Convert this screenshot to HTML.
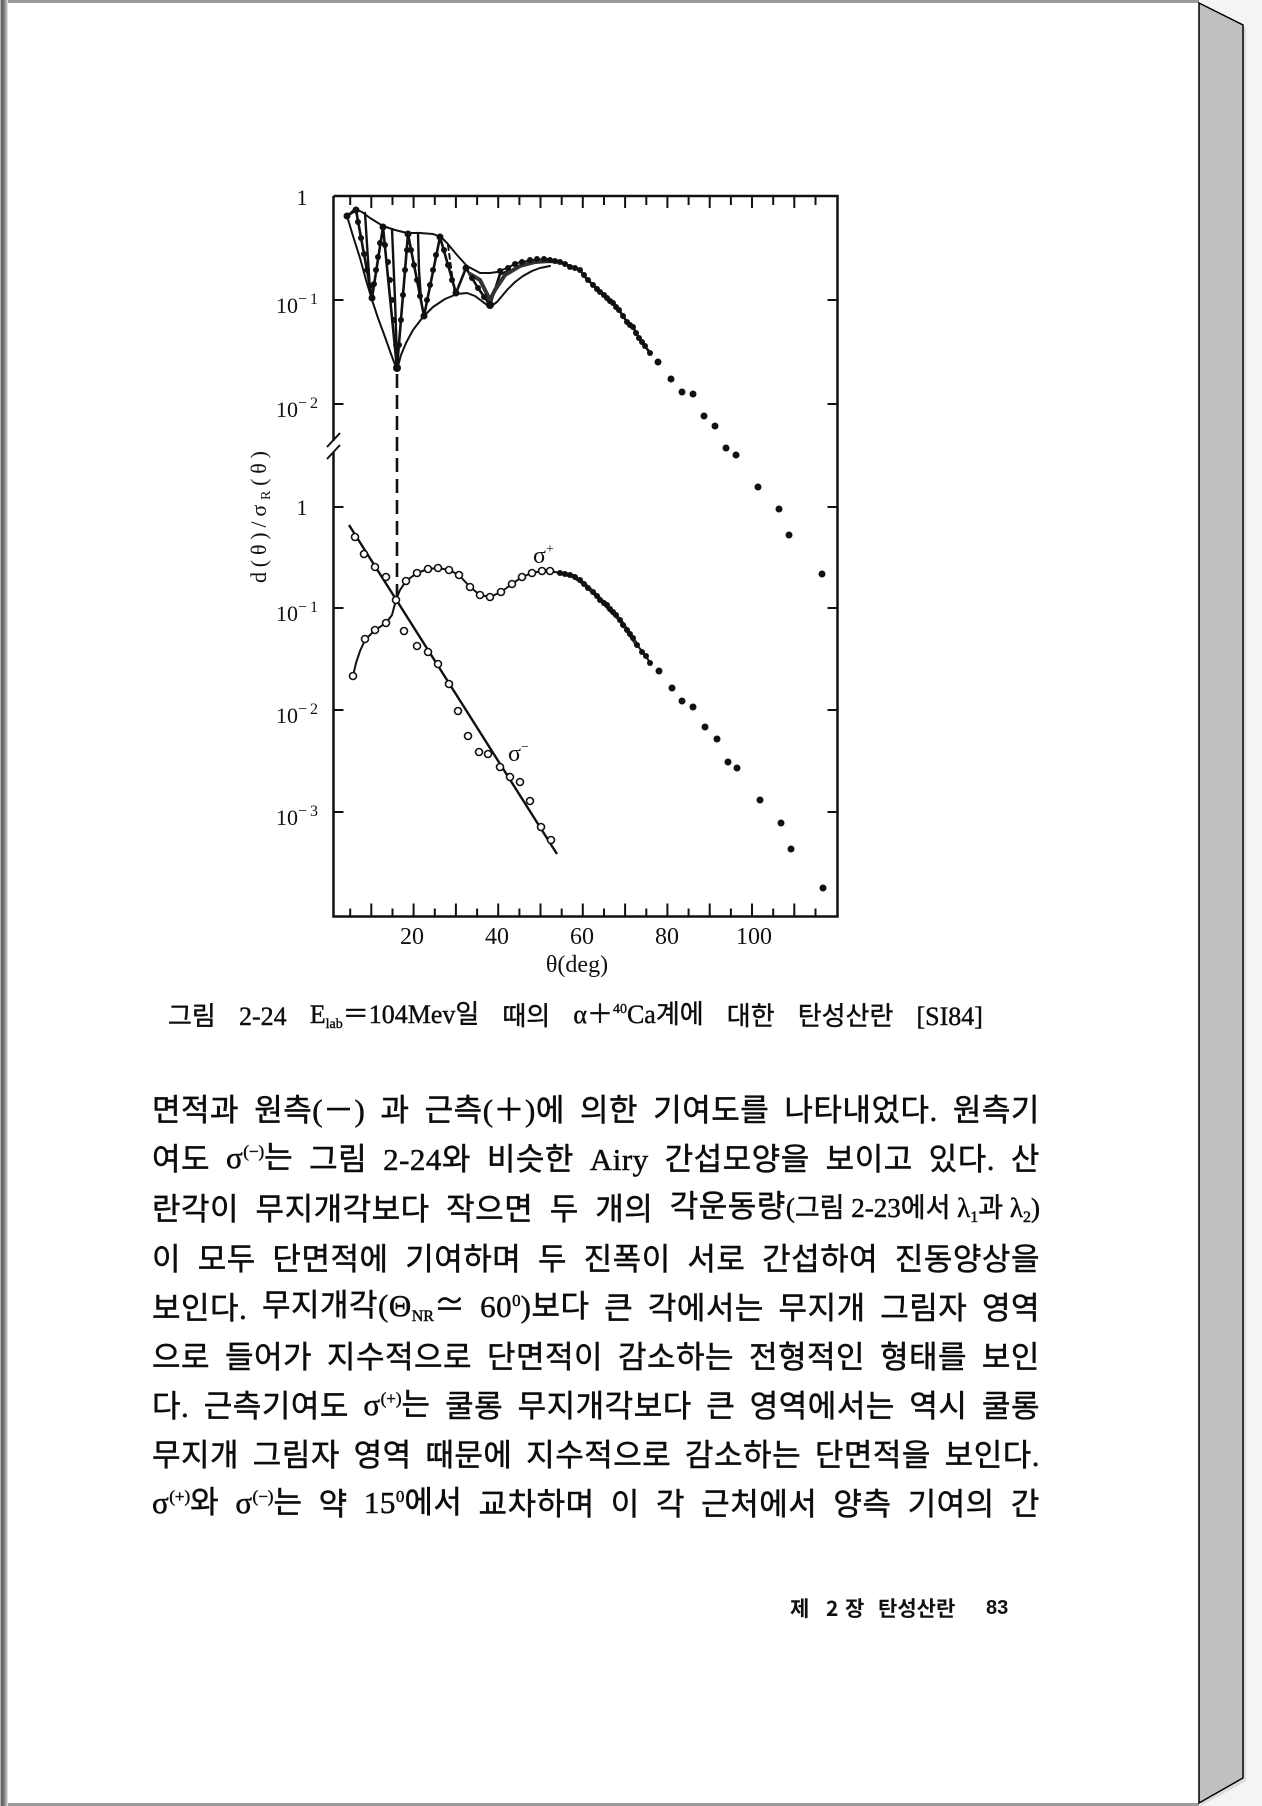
<!DOCTYPE html>
<html>
<head>
<meta charset="utf-8">
<style>
html,body{margin:0;padding:0;}
body{width:1262px;height:1806px;position:relative;overflow:hidden;background:#f4f4f4;}
.line{position:absolute;left:152px;width:888px;height:40px;display:flex;justify-content:space-between;align-items:center;font-size:31px;line-height:40px;font-family:"Liberation Serif","Noto Sans CJK KR",serif;color:#0d0d0d;white-space:nowrap;-webkit-text-stroke:0.5px #0d0d0d;letter-spacing:0.5px;}
.line span{display:inline-block;}
.sup{font-size:17px;position:relative;top:-11px;letter-spacing:0;}
.sub{font-size:16px;position:relative;top:5px;letter-spacing:0;}
.cap{position:absolute;left:168px;width:815px;top:999px;height:36px;display:flex;justify-content:space-between;align-items:center;font-size:26px;line-height:36px;font-family:"Liberation Serif","Noto Sans CJK KR",serif;color:#0d0d0d;white-space:nowrap;-webkit-text-stroke:0.4px #0d0d0d;}
.cap .sup{font-size:14px;top:-10px;}
.cap .sub{font-size:14px;top:5px;}
.ft{position:absolute;top:1594px;font-size:21px;line-height:28px;font-weight:bold;font-family:"Noto Sans CJK KR","Liberation Sans",sans-serif;color:#111;white-space:nowrap;}
</style>
</head>
<body>
<svg width="1262" height="1806" viewBox="0 0 1262 1806" style="position:absolute;left:0;top:0" font-family="Liberation Serif, serif">
<defs>
<linearGradient id="lg" x1="0" x2="1" y1="0" y2="0">
<stop offset="0" stop-color="#e0e0e0"/><stop offset="0.2" stop-color="#555"/><stop offset="0.6" stop-color="#888"/><stop offset="1" stop-color="#e8e8e8"/>
</linearGradient>
</defs>
<rect x="0" y="0" width="1199" height="1806" fill="#fff"/>
<rect x="0" y="0" width="1199" height="3" fill="#9a9a9a"/>
<rect x="0" y="1803" width="1199" height="3" fill="#9a9a9a"/>
<rect x="0" y="0" width="8" height="1806" fill="url(#lg)"/>
<polygon points="1201,5 1246,28 1246,1781 1201,1806" fill="#dcdcdc"/>
<polygon points="1199,3 1243,25 1243,1778 1199,1803" fill="#c0c0c0" stroke="#000" stroke-width="1.5"/>

<g stroke="#111" stroke-width="2.5" fill="none">
<path d="M333.5,196 H837.5 V916.5 H333.5 V452 M333.5,441 V196"/>
<path d="M327,447 L340,433 M327,459 L340,445" stroke-width="2"/>
<path d="M350.2,916.5v-8 M371.3,916.5v-13 M392.5,916.5v-8 M413.6,916.5v-13 M434.8,916.5v-8 M455.9,916.5v-13 M477.1,916.5v-8 M498.2,916.5v-13 M519.4,916.5v-8 M540.5,916.5v-13 M561.7,916.5v-8 M582.8,916.5v-13 M604,916.5v-8 M625.1,916.5v-13 M646.3,916.5v-8 M667.4,916.5v-13 M688.6,916.5v-8 M709.7,916.5v-13 M730.9,916.5v-8 M752,916.5v-13 M773.2,916.5v-8 M794.3,916.5v-13 M815.5,916.5v-8" stroke-width="2"/>
<path d="M350.2,196v9 M371.3,196v12 M392.5,196v9 M413.6,196v12 M434.8,196v9 M455.9,196v12 M477.1,196v9 M498.2,196v12 M519.4,196v9 M540.5,196v12 M561.7,196v9 M582.8,196v12 M604,196v9 M625.1,196v12 M646.3,196v9 M667.4,196v12 M688.6,196v9 M709.7,196v12 M730.9,196v9 M752,196v12 M773.2,196v9 M794.3,196v12 M815.5,196v9" stroke-width="2"/>
<path d="M333.5,300h10 M333.5,404h10 M333.5,507h10 M333.5,608h10 M333.5,710h10 M333.5,812h10 M837.5,300h-10 M837.5,404h-10 M837.5,507h-10 M837.5,608h-10 M837.5,710h-10 M837.5,812h-10" stroke-width="2"/>
</g>

<g font-size="22" fill="#111">
<text x="302" y="205" text-anchor="middle">1</text>
<text x="276" y="313">10<tspan dy="-9" font-size="16" letter-spacing="3">−1</tspan></text>
<text x="276" y="417">10<tspan dy="-9" font-size="16" letter-spacing="3">−2</tspan></text>
<text x="302" y="515" text-anchor="middle">1</text>
<text x="276" y="621">10<tspan dy="-9" font-size="16" letter-spacing="3">−1</tspan></text>
<text x="276" y="723">10<tspan dy="-9" font-size="16" letter-spacing="3">−2</tspan></text>
<text x="276" y="825">10<tspan dy="-9" font-size="16" letter-spacing="3">−3</tspan></text>
</g>
<g font-size="24" fill="#111" text-anchor="middle">
<text x="412" y="944">20</text>
<text x="497" y="944">40</text>
<text x="582" y="944">60</text>
<text x="667" y="944">80</text>
<text x="754" y="944">100</text>
<text x="577" y="972">θ(deg)</text>
</g>
<text transform="translate(266,517) rotate(-90)" font-size="22" fill="#111" text-anchor="middle" textLength="132" lengthAdjust="spacing">d(θ)/σ<tspan font-size="14" dy="4">R</tspan><tspan dy="-4">(θ)</tspan></text>

<g fill="none" stroke="#111" stroke-linejoin="round" stroke-linecap="round">
<polyline stroke-width="2" points="347,216 355,209 362,212 370,218 383,226 395,230 407,233 420,233 433,234 441,237 447,243 457,255 467,266 480,273 490,273 497,272 507,268 517,263 533,260 548,259 560,262 570,267 580,270"/>
<polyline stroke-width="2" points="347,216 353,236 360,258 366,280 372,300 378,318 385,337 391,354 397,370"/>
<polyline stroke-width="2" points="397,370 401,355 406,343 413,330 423,317 433,307 445,299 457,294 467,293 475,296 483,302 490,307 497,302 507,290 515,282 523,276 532,271 540,268 550,266"/>
<polyline stroke-width="2.6" points="347,216 356,210 372,298 383,227 397,368 408,234 424,316 440,237 456,293 466,268 478,288 490,305 500,274 512,270 525,264 540,262 556,261 570,266 580,270 585,277 593,285 600,292 607,298 613,303 619,310 627,322 633,327 639,338 645,346 650,353"/>
<polyline stroke-width="2.4" points="365,213 368,260 370,290"/>
<polyline stroke-width="2.4" points="392,229 395,300 397,360"/>
<polyline stroke-width="2.4" points="418,233 419,270 421,300"/>
<polyline stroke-width="2" stroke-dasharray="5 4" points="448,245 452,275 454,290"/>
<polyline stroke-width="4" stroke="#333" points="470,274 480,280 490,300 495,290 505,275 520,266 535,262 550,261 560,262"/>
</g>
<g fill="#111">
<circle cx="347" cy="216" r="3.5"/><circle cx="356" cy="210" r="3.5"/>
<circle cx="358" cy="222" r="3"/><circle cx="361" cy="238" r="3"/><circle cx="364" cy="254" r="3"/><circle cx="367" cy="270" r="3"/><circle cx="370" cy="286" r="3"/><circle cx="372" cy="298" r="3.5"/>
<circle cx="374" cy="284" r="3"/><circle cx="376" cy="270" r="3"/><circle cx="378" cy="257" r="3"/><circle cx="380" cy="243" r="3"/><circle cx="383" cy="227" r="3.5"/>
<circle cx="385" cy="245" r="3"/><circle cx="388" cy="262" r="3"/><circle cx="390" cy="280" r="3"/><circle cx="392" cy="300" r="3"/><circle cx="394" cy="320" r="3"/><circle cx="396" cy="345" r="3"/><circle cx="397" cy="368" r="4"/>
<circle cx="399" cy="345" r="3"/><circle cx="401" cy="320" r="3"/><circle cx="403" cy="295" r="3"/><circle cx="405" cy="270" r="3"/><circle cx="407" cy="250" r="3"/><circle cx="408" cy="234" r="3.5"/>
<circle cx="411" cy="250" r="3"/><circle cx="414" cy="265" r="3"/><circle cx="417" cy="280" r="3"/><circle cx="420" cy="296" r="3"/><circle cx="424" cy="316" r="3.5"/>
<circle cx="427" cy="300" r="3"/><circle cx="430" cy="285" r="3"/><circle cx="433" cy="270" r="3"/><circle cx="436" cy="255" r="3"/><circle cx="440" cy="237" r="3.5"/>
<circle cx="444" cy="250" r="3"/><circle cx="448" cy="265" r="3"/><circle cx="452" cy="280" r="3"/><circle cx="456" cy="293" r="3.5"/><circle cx="466" cy="268" r="3.5"/>
<circle cx="472" cy="278" r="3"/><circle cx="478" cy="288" r="3"/><circle cx="484" cy="297" r="3"/><circle cx="490" cy="305" r="4"/>
<circle cx="500" cy="271" r="3"/><circle cx="508" cy="268" r="3"/><circle cx="515" cy="264" r="3"/><circle cx="522" cy="262" r="3"/><circle cx="530" cy="260" r="3"/><circle cx="537" cy="259" r="3"/><circle cx="544" cy="259" r="3"/><circle cx="550" cy="260" r="3"/><circle cx="555" cy="261" r="3"/>
<circle cx="560" cy="262" r="3"/><circle cx="565" cy="264" r="3"/><circle cx="570" cy="267" r="3"/><circle cx="575" cy="268" r="3"/><circle cx="580" cy="270" r="3"/><circle cx="584" cy="275" r="3"/><circle cx="588" cy="280" r="3"/><circle cx="593" cy="285" r="3"/><circle cx="597" cy="289" r="3"/><circle cx="600" cy="292" r="3"/><circle cx="604" cy="295" r="3"/><circle cx="607" cy="298" r="3"/><circle cx="610" cy="301" r="3"/><circle cx="613" cy="303" r="3"/><circle cx="616" cy="307" r="3"/><circle cx="619" cy="310" r="3"/><circle cx="623" cy="316" r="3"/><circle cx="627" cy="322" r="3"/><circle cx="630" cy="325" r="3"/><circle cx="633" cy="327" r="3"/><circle cx="636" cy="333" r="3"/><circle cx="639" cy="338" r="3"/><circle cx="642" cy="342" r="3"/><circle cx="645" cy="346" r="3"/><circle cx="650" cy="353" r="3"/>
<circle cx="658" cy="362" r="3.5"/><circle cx="671" cy="379" r="3.5"/><circle cx="682" cy="392" r="3.5"/><circle cx="693" cy="394" r="3.5"/><circle cx="704" cy="416" r="3.5"/><circle cx="715" cy="426" r="3.5"/><circle cx="726" cy="448" r="3.5"/><circle cx="736" cy="455" r="3.5"/><circle cx="758" cy="487" r="3.5"/><circle cx="779" cy="509" r="3.5"/><circle cx="789" cy="535" r="3.5"/><circle cx="822" cy="574" r="3.5"/>
</g>

<line x1="397" y1="374" x2="397" y2="598" stroke="#111" stroke-width="2.6" stroke-dasharray="14 7"/>

<g fill="none" stroke="#111" stroke-linejoin="round" stroke-width="2">
<polyline points="353,676 356,663 360,651 365,640 375,630 386,623 392,615 396,600 400,590 406,581 417,573 428,569 438,568 449,570 459,575 470,587 480,595 490,597 501,592 512,584 522,577 532,573 542,571 550,571 560,573 573,576 583,583 593,592 603,602 610,610 620,620 627,630 637,645 646,656 650,663"/>
<polyline stroke-width="4" stroke="#333" points="560,573 573,576 583,583 593,592 603,602 610,610 620,620 627,630 637,645"/>
<line x1="349" y1="525" x2="557" y2="854" stroke-width="2.4"/>
</g>
<g fill="#fff" stroke="#111" stroke-width="1.6">
<circle cx="353" cy="676" r="3.5"/><circle cx="365" cy="639" r="3.5"/><circle cx="375" cy="630" r="3.5"/><circle cx="386" cy="623" r="3.5"/><circle cx="396" cy="600" r="3.5"/><circle cx="406" cy="581" r="3.5"/><circle cx="417" cy="573" r="3.5"/><circle cx="428" cy="569" r="3.5"/><circle cx="438" cy="568" r="3.5"/><circle cx="449" cy="570" r="3.5"/><circle cx="459" cy="575" r="3.5"/><circle cx="470" cy="587" r="3.5"/><circle cx="480" cy="595" r="3.5"/><circle cx="490" cy="597" r="3.5"/><circle cx="501" cy="592" r="3.5"/><circle cx="512" cy="584" r="3.5"/><circle cx="522" cy="577" r="3.5"/><circle cx="532" cy="573" r="3.5"/><circle cx="542" cy="571" r="3.5"/><circle cx="550" cy="571" r="3.5"/>
<circle cx="355" cy="537" r="3.5"/><circle cx="364" cy="554" r="3.5"/><circle cx="375" cy="567" r="3.5"/><circle cx="386" cy="577" r="3.5"/><circle cx="404" cy="631" r="3.5"/><circle cx="417" cy="646" r="3.5"/><circle cx="428" cy="652" r="3.5"/><circle cx="438" cy="664" r="3.5"/><circle cx="449" cy="684" r="3.5"/><circle cx="458" cy="711" r="3.5"/><circle cx="468" cy="736" r="3.5"/><circle cx="479" cy="752" r="3.5"/><circle cx="488" cy="754" r="3.5"/><circle cx="500" cy="767" r="3.5"/><circle cx="510" cy="777" r="3.5"/><circle cx="520" cy="782" r="3.5"/><circle cx="530" cy="801" r="3.5"/><circle cx="541" cy="827" r="3.5"/><circle cx="551" cy="840" r="3.5"/>
</g>
<g fill="#111">
<circle cx="560" cy="573" r="3"/><circle cx="565" cy="574" r="3"/><circle cx="570" cy="575" r="3"/><circle cx="575" cy="577" r="3"/><circle cx="580" cy="580" r="3"/><circle cx="584" cy="584" r="3"/><circle cx="588" cy="588" r="3"/><circle cx="593" cy="592" r="3"/><circle cx="597" cy="596" r="3"/><circle cx="600" cy="600" r="3"/><circle cx="604" cy="603" r="3"/><circle cx="607" cy="605" r="3"/><circle cx="610" cy="609" r="3"/><circle cx="613" cy="612" r="3"/><circle cx="616" cy="615" r="3"/><circle cx="620" cy="620" r="3"/><circle cx="623" cy="625" r="3"/><circle cx="627" cy="630" r="3"/><circle cx="630" cy="634" r="3"/><circle cx="633" cy="638" r="3"/><circle cx="637" cy="645" r="3"/><circle cx="642" cy="652" r="3"/><circle cx="646" cy="656" r="3"/><circle cx="650" cy="663" r="3"/>
<circle cx="659" cy="671" r="3.5"/><circle cx="672" cy="688" r="3.5"/><circle cx="682" cy="701" r="3.5"/><circle cx="693" cy="707" r="3.5"/><circle cx="705" cy="727" r="3.5"/><circle cx="717" cy="739" r="3.5"/><circle cx="728" cy="762" r="3.5"/><circle cx="737" cy="768" r="3.5"/><circle cx="760" cy="800" r="3.5"/><circle cx="781" cy="823" r="3.5"/><circle cx="791" cy="849" r="3.5"/><circle cx="823" cy="888" r="3.5"/>
</g>
<text x="533" y="563" font-size="24" fill="#111">σ<tspan font-size="14" dy="-10">+</tspan></text>
<text x="508" y="761" font-size="24" fill="#111">σ<tspan font-size="14" dy="-10">−</tspan></text>
</svg>

<div class="cap"><span>그림</span><span>2-24</span><span>E<span class="sub">lab</span>＝104Mev일</span><span>때의</span><span>α＋<span class="sup">40</span>Ca계에</span><span>대한</span><span>탄성산란</span><span>[SI84]</span></div>

<div class="line" style="top:1091px"><span>면적과</span><span>원측(－)</span><span>과</span><span>근측(＋)에</span><span>의한</span><span>기여도를</span><span>나타내었다.</span><span>원측기</span></div>
<div class="line" style="top:1140px"><span>여도</span><span>σ<span class="sup">(−)</span>는</span><span>그림</span><span>2-24와</span><span>비슷한</span><span>Airy</span><span>간섭모양을</span><span>보이고</span><span>있다.</span><span>산</span></div>
<div class="line" style="top:1190px"><span>란각이</span><span>무지개각보다</span><span>작으면</span><span>두</span><span>개의</span><span>각운동량<span style="font-size:27px;letter-spacing:0">(그림 2-23에서 λ<span class="sub">1</span>과 λ<span class="sub">2</span>)</span></span></div>
<div class="line" style="top:1240px"><span>이</span><span>모두</span><span>단면적에</span><span>기여하며</span><span>두</span><span>진폭이</span><span>서로</span><span>간섭하여</span><span>진동양상을</span></div>
<div class="line" style="top:1289px"><span>보인다.</span><span>무지개각(Θ<span class="sub">NR</span>≃</span><span>60<span class="sup">0</span>)보다</span><span>큰</span><span>각에서는</span><span>무지개</span><span>그림자</span><span>영역</span></div>
<div class="line" style="top:1338px"><span>으로</span><span>들어가</span><span>지수적으로</span><span>단면적이</span><span>감소하는</span><span>전형적인</span><span>형태를</span><span>보인</span></div>
<div class="line" style="top:1387px"><span>다.</span><span>근측기여도</span><span>σ<span class="sup">(+)</span>는</span><span>쿨롱</span><span>무지개각보다</span><span>큰</span><span>영역에서는</span><span>역시</span><span>쿨롱</span></div>
<div class="line" style="top:1436px"><span>무지개</span><span>그림자</span><span>영역</span><span>때문에</span><span>지수적으로</span><span>감소하는</span><span>단면적을</span><span>보인다.</span></div>
<div class="line" style="top:1485px"><span>σ<span class="sup">(+)</span>와</span><span>σ<span class="sup">(−)</span>는</span><span>약</span><span>15<span class="sup">0</span>에서</span><span>교차하며</span><span>이</span><span>각</span><span>근처에서</span><span>양측</span><span>기여의</span><span>간</span></div>

<div class="ft" style="left:790px">제</div>
<div class="ft" style="left:826px">2</div>
<div class="ft" style="left:845px">장</div>
<div class="ft" style="left:878px">탄성산란</div>
<div class="ft" style="left:986px;font-family:'Liberation Sans',sans-serif;font-size:20px;">83</div>
</body>
</html>
